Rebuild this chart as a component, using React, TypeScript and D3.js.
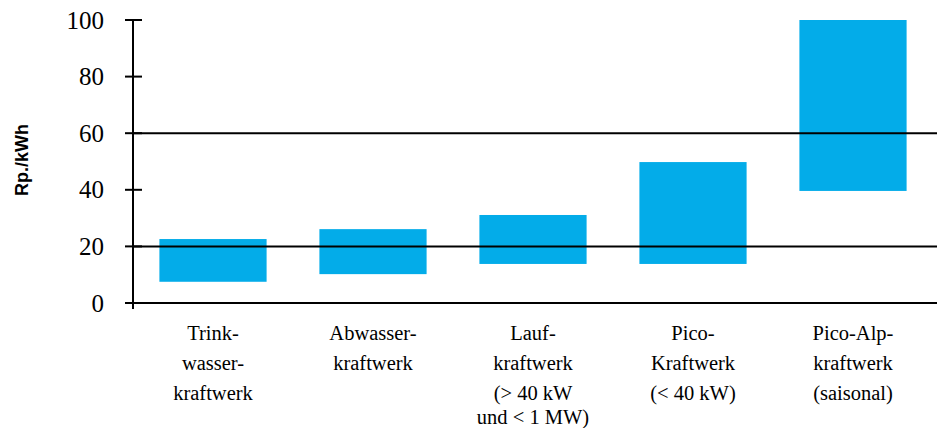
import React from "react";
import * as d3 from "d3";

const categories: string[][] = [
  ["Trink-", "wasser-", "kraftwerk"],
  ["Abwasser-", "kraftwerk"],
  ["Lauf-", "kraftwerk", "(> 40 kW", "und < 1 MW)"],
  ["Pico-", "Kraftwerk", "(< 40 kW)"],
  ["Pico-Alp-", "kraftwerk", "(saisonal)"],
];
const lowValues = [7.5, 10.2, 13.8, 13.8, 39.6];
const highValues = [22.6, 26.1, 31.1, 49.8, 100];
const yTicks = [0, 20, 40, 60, 80, 100];
const gridValues = [20, 60];
const yLabel = "Rp./kWh";

const W = 938;
const H = 428;
const left = 133;
const right = 933;
const top = 20;
const bottom = 303;

const css = `
.serif-t { font-family: "Liberation Serif", "Times New Roman", Times, serif !important; }
.sans-t { font-family: "Liberation Sans", Arial, sans-serif !important; font-weight: bold; }
`;

export default function App() {
  const ids = categories.map((_, i) => String(i));
  const x = d3.scaleBand<string>().domain(ids).range([left, right]).paddingInner(0.33).paddingOuter(0.165);
  const y = d3.scaleLinear().domain([0, 100]).range([bottom, top]);
  const lineOffsets = [0, 30, 60, 84];
  return (
    <div style={{ position: "absolute", left: 0, top: 0, width: W, height: H, background: "#fff" }}>
      <style>{css}</style>
      <svg width={W} height={H} style={{ display: "block" }}>
        {categories.map((c, i) => (
          <rect
            key={i}
            x={x(String(i))!}
            width={x.bandwidth()}
            y={y(highValues[i])}
            height={y(lowValues[i]) - y(highValues[i])}
            fill="#03ACE9"
          />
        ))}
        {gridValues.map((g) => (
          <line key={g} x1={left} x2={W - 1} y1={y(g)} y2={y(g)} stroke="#000" strokeWidth={2} />
        ))}
        <line x1={left} x2={W - 1} y1={y(0)} y2={y(0)} stroke="#000" strokeWidth={2} />
        <line x1={left} x2={left} y1={y(100)} y2={y(0) + 6} stroke="#000" strokeWidth={2} />
        {yTicks.map((t) => (
          <g key={t}>
            <line x1={left - 8} x2={left + 9} y1={y(t)} y2={y(t)} stroke="#000" strokeWidth={2} />
            <text className="serif-t" x={104} y={y(t)} dy="0.34em" textAnchor="end" fontSize={25} fill="#000">
              {String(t)}
            </text>
          </g>
        ))}
        <text className="sans-t" transform={`translate(28, 160) rotate(-90)`} textAnchor="middle" fontSize={18} fill="#000">
          {yLabel}
        </text>
        {categories.map((lines, i) => (
          <text
            key={i}
            className="serif-t"
            x={x(String(i))! + x.bandwidth() / 2}
            textAnchor="middle"
            fontSize={20.5}
            fill="#000"
          >
            {lines.map((l, j) => (
              <tspan key={j} x={x(String(i))! + x.bandwidth() / 2} y={340 + lineOffsets[j]}>
                {l}
              </tspan>
            ))}
          </text>
        ))}
      </svg>
    </div>
  );
}
